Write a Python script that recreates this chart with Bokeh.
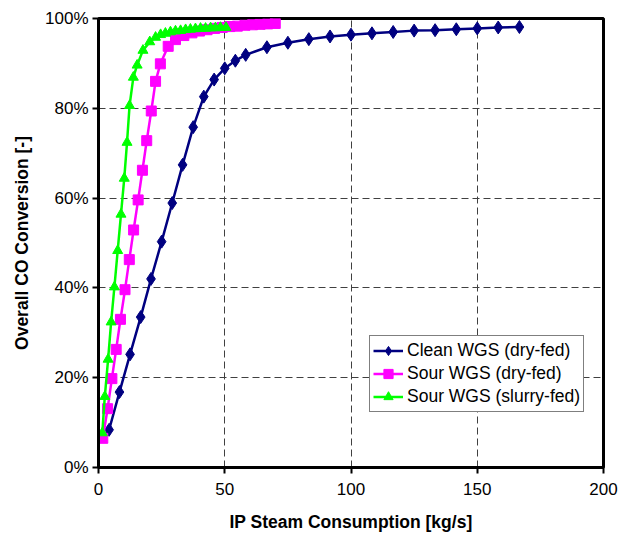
from bokeh.plotting import figure
from bokeh.models import Range1d, FixedTicker, PrintfTickFormatter, Legend, LegendItem
from bokeh.embed import file_html
from bokeh.resources import INLINE

# Clean WGS (dry-fed)
clean_x = [4.2, 8.3, 12.5, 16.7, 20.8, 25.0, 29.2, 33.3, 37.5, 41.7, 45.8, 50.0, 54.2, 58.3,
           66.7, 75.0, 83.3, 91.7, 100.0, 108.3, 116.7, 125.0, 133.3, 141.7, 150.0, 158.3, 166.7]
clean_y = [8.4, 16.8, 25.2, 33.5, 42.0, 50.3, 58.9, 67.4, 75.8, 82.6, 86.4, 88.9, 90.6, 91.9,
           93.6, 94.6, 95.4, 96.0, 96.4, 96.7, 97.0, 97.3, 97.4, 97.6, 97.8, 98.0, 98.1]

# Sour WGS (dry-fed)
sour_x = [1.7, 3.6, 5.3, 7.0, 8.7, 10.5, 12.2, 13.9, 15.7, 17.4, 19.1, 20.9, 22.6, 24.5, 27.6,
          30.5, 33.8, 37.0, 40.0, 43.0, 46.0, 49.0, 52.0, 55.0, 58.0, 61.0, 64.0, 67.0, 70.0]
sour_y = [6.5, 13.1, 19.8, 26.3, 33.0, 39.6, 46.3, 52.9, 59.6, 66.2, 72.8, 79.4, 86.0, 89.9, 93.8,
          95.3, 96.2, 96.8, 97.2, 97.5, 97.8, 98.0, 98.2, 98.3, 98.5, 98.6, 98.7, 98.8, 98.9]

# Sour WGS (slurry-fed)
slurry_x = [1.5, 2.5, 3.8, 5.0, 6.3, 7.6, 8.9, 10.2, 11.3, 12.3, 13.8, 15.3, 17.6, 20.3, 22.6,
            24.6, 26.5, 28.5, 30.5, 32.5, 34.5, 36.4, 38.4, 40.4, 42.4, 44.4, 46.3, 48.3, 50.5]
slurry_y = [7.7, 15.8, 24.1, 32.4, 40.2, 48.3, 56.4, 64.4, 72.4, 80.6, 86.9, 89.6, 92.9, 94.8, 95.8,
            96.4, 96.7, 97.0, 97.2, 97.3, 97.5, 97.6, 97.7, 97.8, 97.8, 97.9, 97.9, 98.0, 98.0]

x_ticks = [0, 50, 100, 150, 200]
y_ticks = [0, 20, 40, 60, 80, 100]

FONT = "Liberation Sans"

p = figure(width=628, height=535, output_backend="svg", toolbar_location=None,
           x_range=Range1d(0, 200), y_range=Range1d(0, 100),
           min_border_left=98, min_border_right=25, min_border_top=18, min_border_bottom=68)

p.background_fill_color = "white"
p.border_fill_color = "white"
p.outline_line_color = "black"
p.outline_line_width = 3

for ax in (p.xaxis[0], p.yaxis[0]):
    ax.axis_line_width = 3
    ax.axis_line_color = "black"
    ax.major_tick_line_width = 2
    ax.major_tick_line_color = "black"
    ax.major_tick_out = 6
    ax.major_tick_in = 0
    ax.minor_tick_line_color = None
    ax.major_label_text_font = FONT
    ax.major_label_text_font_size = "17px"
    ax.major_label_text_color = "black"
    ax.axis_label_text_font = FONT
    ax.axis_label_text_font_size = "17.5px"
    ax.axis_label_text_font_style = "bold"
    ax.axis_label_text_color = "black"

p.xaxis.ticker = FixedTicker(ticks=x_ticks)
p.yaxis.ticker = FixedTicker(ticks=y_ticks)
p.yaxis.formatter = PrintfTickFormatter(format="%d%%")
p.xaxis.axis_label = "IP Steam Consumption [kg/s]"
p.yaxis.axis_label = "Overall CO Conversion [-]"
p.xaxis.major_label_standoff = 9
p.yaxis.major_label_standoff = 4
p.xaxis.axis_label_standoff = 14
p.yaxis.axis_label_standoff = 10

for g in (p.xgrid[0], p.ygrid[0]):
    g.grid_line_color = "#404040"
    g.grid_line_width = 1
    g.grid_line_dash = "7 4"

l1 = p.line(clean_x, clean_y, line_color="#000080", line_width=2.5)
m1 = p.scatter(clean_x, clean_y, marker="diamond", size=13, fill_color="#000080", line_color="#000080")
l2 = p.line(sour_x, sour_y, line_color="#FF00FF", line_width=2.5)
m2 = p.scatter(sour_x, sour_y, marker="square", size=10, fill_color="#FF00FF", line_color="#FF00FF")
l3 = p.line(slurry_x, slurry_y, line_color="#00FF00", line_width=2.5)
m3 = p.scatter(slurry_x, slurry_y, marker="triangle", size=10, fill_color="#00FF00", line_color="#00FF00")

legend = Legend(items=[
    LegendItem(label="Clean WGS (dry-fed)", renderers=[l1, m1]),
    LegendItem(label="Sour WGS (dry-fed)", renderers=[l2, m2]),
    LegendItem(label="Sour WGS (slurry-fed)", renderers=[l3, m3]),
], location=(271, 55))
legend.border_line_color = "black"
legend.border_line_width = 1
legend.background_fill_color = "white"
legend.background_fill_alpha = 1
legend.label_text_font = FONT
legend.label_text_font_size = "17.5px"
legend.label_text_color = "black"
legend.glyph_width = 30
legend.glyph_height = 23
legend.label_height = 23
legend.label_standoff = 4
legend.padding = 3
legend.spacing = 0
legend.margin = 0
p.add_layout(legend, "center")

open("out.html", "w").write(file_html(p, INLINE))
